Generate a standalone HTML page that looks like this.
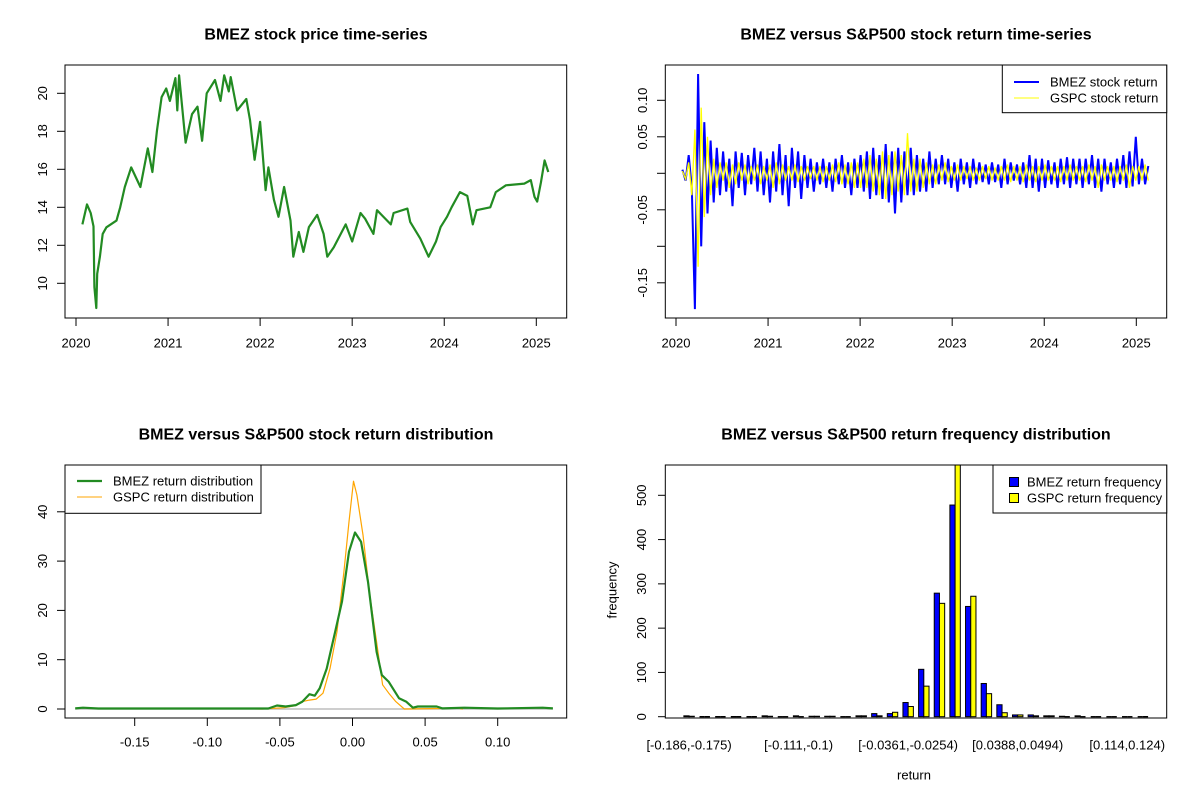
<!DOCTYPE html>
<html><head><meta charset="utf-8"><style>
html,body{margin:0;padding:0;background:#fff;}
svg{display:block;font-family:"Liberation Sans",Arial,sans-serif;}
</style></head><body>
<svg id="c" width="1200" height="800" viewBox="0 0 1200 800"></svg>
<script>
// ---- price chart data ----
const priceYears=[2020.07,2020.12,2020.16,2020.19,2020.2,2020.22,2020.23,2020.26,2020.29,2020.33,2020.44,2020.48,2020.53,2020.6,2020.7,2020.78,2020.83,2020.88,2020.93,2020.98,2021.02,2021.08,2021.1,2021.12,2021.19,2021.26,2021.32,2021.37,2021.42,2021.51,2021.57,2021.61,2021.66,2021.68,2021.75,2021.85,2021.89,2021.94,2022.0,2022.06,2022.09,2022.15,2022.2,2022.26,2022.33,2022.36,2022.42,2022.47,2022.53,2022.62,2022.69,2022.73,2022.8,2022.93,2023.0,2023.09,2023.14,2023.23,2023.27,2023.42,2023.45,2023.6,2023.63,2023.74,2023.83,2023.91,2023.96,2024.03,2024.08,2024.17,2024.25,2024.31,2024.35,2024.5,2024.56,2024.67,2024.87,2024.94,2024.98,2025.01,2025.05,2025.09,2025.13];
const priceValues=[13.1,14.15,13.7,13.0,9.8,8.7,10.5,11.4,12.6,12.95,13.3,14.0,15.07,16.1,15.07,17.1,15.86,18.05,19.8,20.25,19.6,20.8,19.1,20.95,17.4,18.9,19.3,17.5,20.0,20.7,19.6,20.95,20.1,20.85,19.1,19.7,18.6,16.5,18.5,14.9,16.1,14.4,13.5,15.07,13.3,11.4,12.7,11.65,12.96,13.6,12.6,11.4,11.9,13.1,12.2,13.7,13.4,12.6,13.85,13.1,13.7,13.93,13.23,12.35,11.4,12.2,12.96,13.5,14.0,14.8,14.6,13.1,13.85,14.0,14.8,15.16,15.25,15.43,14.55,14.3,15.3,16.47,15.86];
const priceTicks=[10,12,14,16,18,20];
const yearTicks=[2020,2021,2022,2023,2024,2025];
// ---- return series data ----
const returnStart=2020.07, returnEnd=2025.13;
const bmezReturns=[0.005,-0.01,0.025,-0.02,-0.186,0.136,-0.10,0.07,-0.055,0.045,
-0.04,0.035,-0.03,0.03,-0.025,0.02,-0.045,0.03,-0.02,0.028,
-0.03,0.025,-0.015,0.035,-0.025,0.03,-0.03,0.02,-0.04,0.03,
-0.025,0.04,-0.03,0.025,-0.045,0.035,-0.02,0.03,-0.035,0.025,
-0.02,0.02,-0.025,0.015,-0.015,0.02,-0.02,0.015,-0.025,0.02,
-0.015,0.025,-0.02,0.015,-0.03,0.02,-0.02,0.025,-0.025,0.03,
-0.035,0.035,-0.03,0.025,-0.035,0.04,-0.04,0.03,-0.055,0.035,
-0.04,0.03,-0.03,0.035,-0.03,0.025,-0.025,0.02,-0.025,0.03,
-0.02,0.02,-0.015,0.025,-0.015,0.02,-0.02,0.015,-0.025,0.02,
-0.015,0.015,-0.02,0.02,-0.015,0.015,-0.012,0.012,-0.015,0.015,
-0.012,0.012,-0.02,0.02,-0.015,0.015,-0.01,0.012,-0.015,0.015,
-0.02,0.025,-0.02,0.02,-0.025,0.02,-0.02,0.018,-0.015,0.015,
-0.02,0.02,-0.015,0.022,-0.02,0.02,-0.015,0.02,-0.02,0.02,
-0.015,0.025,-0.02,0.02,-0.025,0.02,-0.015,0.015,-0.02,0.02,
-0.015,0.025,-0.02,0.03,-0.018,0.05,-0.015,0.02,-0.015,0.01];
const gspcReturns=[0.003,-0.008,0.015,-0.03,0.06,-0.128,0.09,-0.06,0.05,-0.03,
0.02,-0.02,0.015,-0.01,0.015,-0.02,0.012,-0.015,0.015,-0.01,
0.012,-0.015,0.01,-0.01,0.012,-0.015,0.01,-0.01,0.012,-0.02,
0.015,-0.015,0.012,-0.01,0.01,-0.01,0.012,-0.012,0.01,-0.01,
0.01,-0.008,0.01,-0.01,0.01,-0.012,0.01,-0.01,0.012,-0.012,
0.015,-0.015,0.012,-0.015,0.015,-0.02,0.015,-0.02,0.02,-0.02,
0.025,-0.025,0.02,-0.03,0.03,-0.035,0.025,-0.03,0.03,-0.025,
0.025,-0.03,0.055,-0.025,0.02,-0.025,0.02,-0.02,0.015,-0.015,
0.012,-0.015,0.012,-0.01,0.015,-0.012,0.01,-0.01,0.012,-0.01,
0.01,-0.008,0.01,-0.01,0.008,-0.01,0.01,-0.008,0.01,-0.01,
0.008,-0.01,0.01,-0.01,0.012,-0.012,0.01,-0.01,0.01,-0.012,
0.012,-0.01,0.01,-0.012,0.01,-0.01,0.012,-0.01,0.01,-0.01,
0.01,-0.012,0.01,-0.01,0.012,-0.01,0.01,-0.01,0.01,-0.012,
0.012,-0.01,0.01,-0.02,0.012,-0.01,0.01,-0.01,0.01,-0.012,
0.01,-0.01,0.012,-0.02,0.01,-0.01,0.01,-0.01,0.012,-0.01];
const returnTicks=[-0.15,-0.10,-0.05,0,0.05,0.10];
const returnTickLabels=["-0.15","","-0.05","","0.05","0.10"];
// ---- density data ----
const bmezDensX=[-0.191,-0.1856,-0.175,-0.125,-0.058,-0.052,-0.046,-0.039,-0.0345,-0.0297,-0.026,-0.0226,-0.0178,-0.0119,-0.0072,-0.0024,0.0017,0.0059,0.0107,0.0166,0.0202,0.025,0.032,0.0369,0.0416,0.045,0.058,0.062,0.077,0.1,0.131,0.138];
const bmezDensY=[0.13,0.27,0.1,0.1,0.1,0.7,0.5,0.8,1.5,3.0,2.7,4.2,8.2,15.7,21.8,31.9,35.8,33.9,25.8,11.6,6.9,5.5,2.2,1.5,0.27,0.5,0.5,0.13,0.27,0.1,0.27,0.13];
const gspcDensX=[-0.1296,-0.125,-0.062,-0.047,-0.039,-0.0345,-0.0297,-0.025,-0.0203,-0.0155,-0.0107,-0.0059,-0.0024,0.0007,0.003,0.0072,0.0119,0.0166,0.0207,0.025,0.0298,0.0357,0.065,0.0713,0.076];
const gspcDensY=[0,0.13,0,0.27,0.7,1.5,1.8,2.0,3.2,8.2,15.7,27.8,38,46.2,43.4,35.3,23.1,13.6,4.9,3.2,1.5,0,0.13,0.27,0];
const densXTicks=[-0.15,-0.10,-0.05,0,0.05,0.10];
const densXLabels=["-0.15","-0.10","-0.05","0.00","0.05","0.10"];
const densYTicks=[0,10,20,30,40];
// ---- frequency data ----
const binLabels=["[-0.186,-0.175)","[-0.111,-0.1)","[-0.0361,-0.0254)","[0.0388,0.0494)","[0.114,0.124)"];
const binLabelIndex=[0,7,14,21,28];
const bmezFreq=[2,0,0,0,0,2,0,2,1,1,0,2,7,7,32,107,279,478,249,75,27,4,4,2,1,2,0,0,0,0];
const gspcFreq=[1,0,0,0,0,1,0,0,1,1,0,2,2,10,23,69,256,575,272,52,9,4,2,2,0,0,0,0,0,0];
const freqTicks=[0,100,200,300,400,500];

const NS="http://www.w3.org/2000/svg";
const svg=document.getElementById('c');
const TICK=13, TITLE=16;
function mk(tag,attrs,parent){const e=document.createElementNS(NS,tag);for(const k in attrs)e.setAttribute(k,attrs[k]);(parent||svg).appendChild(e);return e;}
function txt(s,x,y,size,opts,parent){const o=opts||{};const t=mk('text',{x:x,y:y,'font-size':size,'text-anchor':o.anchor||'middle','dominant-baseline':'central',fill:'#000'},parent);if(o.bold)t.setAttribute('font-weight','bold');if(o.rot)t.setAttribute('transform','rotate(-90 '+x+' '+y+')');t.textContent=s;return t;}
function group(name){const g=mk('g',{});return g;}

// ========== Panel 1: price ==========
(function(){
  const g=group('price-chart');
  const X=yr=>76+(yr-2020)*92.06, Y=v=>93.3+(20-v)*19;
  let d='';priceYears.forEach((t,i)=>{d+=(i?'L':'M')+X(t).toFixed(1)+' '+Y(priceValues[i]).toFixed(1);});
  const p=mk('path',{d:d,fill:'none',stroke:'#228B22','stroke-width':2.2,'stroke-linejoin':'round'},g);
  
  const b=mk('rect',{x:65,y:65,width:501.7,height:253,fill:'none',stroke:'#000','stroke-width':1},g);
  
  yearTicks.forEach(t=>{mk('line',{x1:X(t),x2:X(t),y1:318,y2:326,stroke:'#000'},g);const l=txt(String(t),X(t),343,TICK,{},g);});
  priceTicks.forEach(t=>{mk('line',{x1:57,x2:65,y1:Y(t),y2:Y(t),stroke:'#000'},g);const l=txt(String(t),42.7,Y(t),TICK,{rot:1},g);});
  const tt=txt('BMEZ stock price time-series',316,35,TITLE,{bold:1},g);
})();

// ========== Panel 2: returns ==========
(function(){
  const g=group('return-time-series-chart');
  const X=yr=>676+(yr-2020)*92.06, Y=v=>173.3-v*730;
  function line(arr,col,w,name){const n=arr.length;let d='';arr.forEach((v,i)=>{const t=returnStart+(returnEnd-returnStart)*i/(n-1);d+=(i?'L':'M')+X(t).toFixed(1)+' '+Y(v).toFixed(1);});const p=mk('path',{d:d,fill:'none',stroke:col,'stroke-width':w},g);}
  line(bmezReturns,'#0000FF',2,'bmez-return-line');
  line(gspcReturns,'#FFFF00',1.3,'gspc-return-line');
  const b=mk('rect',{x:665.3,y:65,width:501.4,height:253,fill:'none',stroke:'#000'},g);
  
  yearTicks.forEach(t=>{mk('line',{x1:X(t),x2:X(t),y1:318,y2:326,stroke:'#000'},g);const l=txt(String(t),X(t),343,TICK,{},g);});
  returnTicks.forEach((t,i)=>{mk('line',{x1:657,x2:665.3,y1:Y(t),y2:Y(t),stroke:'#000'},g);if(returnTickLabels[i]){const l=txt(returnTickLabels[i],642.7,Y(t),TICK,{rot:1},g);}});
  const lg=mk('g',{},g);
  mk('rect',{x:1002.3,y:65,width:164.4,height:47.7,fill:'#fff',stroke:'#000'},lg);
  mk('line',{x1:1014,x2:1039,y1:82,y2:82,stroke:'#0000FF','stroke-width':2},lg);
  mk('line',{x1:1014,x2:1039,y1:98,y2:98,stroke:'#FFFF00','stroke-width':1},lg);
  const a=txt('BMEZ stock return',1050,82,TICK,{anchor:'start'},lg);
  const c=txt('GSPC stock return',1050,98,TICK,{anchor:'start'},lg);
  const tt=txt('BMEZ versus S&P500 stock return time-series',916,35,TITLE,{bold:1},g);
})();

// ========== Panel 3: density ==========
(function(){
  const g=group('return-density-chart');
  const X=v=>352.5+v*1452, Y=v=>709-v*4.93;
  mk('line',{x1:X(-0.191),x2:X(0.138),y1:Y(0),y2:Y(0),stroke:'#BEBEBE','stroke-width':1.5},g);
  function line(xs,ys,col,w,name){let d='';xs.forEach((x,i)=>{d+=(i?'L':'M')+X(x).toFixed(1)+' '+Y(ys[i]).toFixed(1);});const p=mk('path',{d:d,fill:'none',stroke:col,'stroke-width':w,'stroke-linejoin':'round'},g);}
  line(gspcDensX,gspcDensY,'#FFA500',1.2,'gspc-density-line');
  line(bmezDensX,bmezDensY,'#228B22',2.2,'bmez-density-line');
  const b=mk('rect',{x:65,y:465,width:501.7,height:253,fill:'none',stroke:'#000'},g);
  
  densXTicks.forEach((t,i)=>{mk('line',{x1:X(t),x2:X(t),y1:718,y2:726,stroke:'#000'},g);const l=txt(densXLabels[i],X(t),742,TICK,{},g);});
  densYTicks.forEach(t=>{mk('line',{x1:57,x2:65,y1:Y(t),y2:Y(t),stroke:'#000'},g);const l=txt(String(t),42.7,Y(t),TICK,{rot:1},g);});
  const lg=mk('g',{},g);
  mk('rect',{x:65,y:465,width:196,height:48.3,fill:'#fff',stroke:'#000'},lg);
  mk('line',{x1:77,x2:102,y1:481,y2:481,stroke:'#228B22','stroke-width':2.2},lg);
  mk('line',{x1:77,x2:102,y1:497,y2:497,stroke:'#FFA500','stroke-width':1},lg);
  const a=txt('BMEZ return distribution',113,481,TICK,{anchor:'start'},lg);
  const c=txt('GSPC return distribution',113,497,TICK,{anchor:'start'},lg);
  const tt=txt('BMEZ versus S&P500 stock return distribution',316,435,TITLE,{bold:1},g);
})();

// ========== Panel 4: frequency bars ==========
(function(){
  const g=group('return-frequency-chart');
  const X=u=>665.3+(u+2.56)*5.216, Y=v=>716.7-v*0.4428;
  const clipId='barclip';const defs=mk('defs',{},g);const cp=mk('clipPath',{id:clipId},defs);mk('rect',{x:665.3,y:465,width:501.4,height:253},cp);
  const bg=mk('g',{'clip-path':'url(#'+clipId+')'},g);
  function bar(u,v,col,name){
    if(v>0){const r=mk('rect',{x:X(u),y:Y(v),width:5.216,height:Y(0)-Y(v),fill:col,stroke:'#000','stroke-width':1},bg);}
    else{const r=mk('line',{x1:X(u),x2:X(u)+5.216,y1:Y(0),y2:Y(0),stroke:'#000','stroke-width':1.3},bg);}
  }
  bmezFreq.forEach((v,i)=>bar(1+3*i,v,'#0000FF','bar-bmez'));
  gspcFreq.forEach((v,i)=>bar(2+3*i,v,'#FFFF00','bar-gspc'));
  const b=mk('rect',{x:665.3,y:465,width:501.4,height:253,fill:'none',stroke:'#000'},g);
  
  freqTicks.forEach(t=>{mk('line',{x1:658,x2:665.3,y1:Y(t),y2:Y(t),stroke:'#000'},g);const l=txt(String(t),641.7,Y(t),TICK,{rot:1},g);});
  binLabels.forEach((s,k)=>{const i=binLabelIndex[k];const l=txt(s,X(2+3*i),745,TICK,{},g);});
  const yl=txt('frequency',612,590,TICK,{rot:1},g);
  const xl=txt('return',914,775,TICK,{},g);
  const lg=mk('g',{},g);
  mk('rect',{x:993,y:465,width:173.7,height:48,fill:'#fff',stroke:'#000'},lg);
  mk('rect',{x:1009.5,y:477.5,width:9,height:9,fill:'#0000FF',stroke:'#000'},lg);
  mk('rect',{x:1009.5,y:493.5,width:9,height:9,fill:'#FFFF00',stroke:'#000'},lg);
  const a=txt('BMEZ return frequency',1027,482,TICK,{anchor:'start'},lg);
  const c=txt('GSPC return frequency',1027,498,TICK,{anchor:'start'},lg);
  const tt=txt('BMEZ versus S&P500 return frequency distribution',916,435,TITLE,{bold:1},g);
})();
</script>
</body></html>
